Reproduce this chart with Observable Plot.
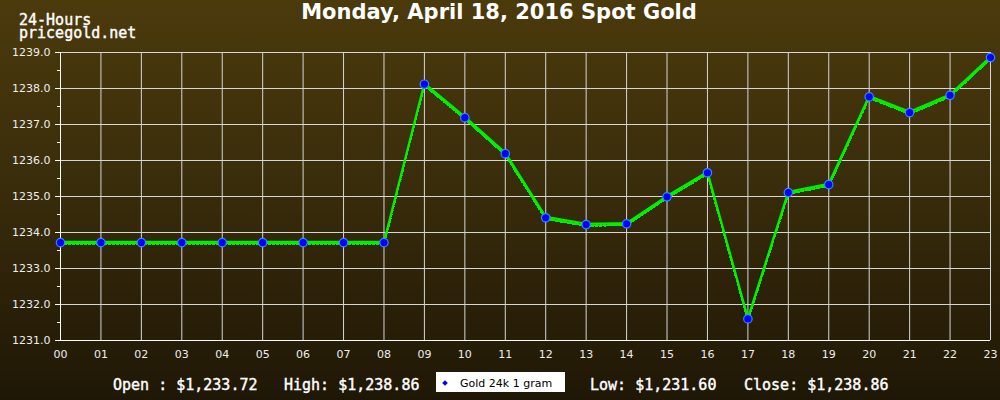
<!DOCTYPE html>
<html>
<head>
<meta charset="utf-8">
<script src="https://cdn.jsdelivr.net/npm/d3@7"></script>
<script src="https://cdn.jsdelivr.net/npm/@observablehq/plot@0.6"></script>
<style>
  html, body { margin: 0; padding: 0; background: #1f1705; }
  #wrap { position: relative; width: 1000px; height: 400px; overflow: hidden;
    background: linear-gradient(to bottom, #4b3a0c 0%, #3a2d0b 45%, #1f1706 100%); }
  .abs { position: absolute; white-space: pre; color: #ffffff; }
  .mono { font-family: "DejaVu Sans Mono", monospace; font-size: 15px; font-weight: normal; line-height: 13px; -webkit-text-stroke: 0.4px #ffffff; }
  #title { left: 0; width: 998px; text-align: center; top: 2px; font-family: "DejaVu Sans", sans-serif; font-weight: bold; font-size: 21px; line-height: 1; }
  #legend { position: absolute; left: 436px; top: 372px; width: 129px; height: 20px; background: #ffffff; }
  #legend .mk { position: absolute; left: 7px; top: 9px; width: 4px; height: 4px; background: #0000ff; transform: rotate(45deg); }
  #legend .tx { position: absolute; left: 24px; top: 6px; font-family: "DejaVu Sans", sans-serif; font-size: 11px; line-height: 1; color: #000; white-space: pre; }
  svg { position: absolute; left: 0; top: 0; }
</style>
</head>
<body>
<div id="wrap"></div>
<script>
// ---- data ----
const hours = [0,1,2,3,4,5,6,7,8,9,10,11,12,13,14,15,16,17,18,19,20,21,22,23];
const prices = [1233.72,1233.72,1233.72,1233.72,1233.72,1233.72,1233.72,1233.72,1233.72,
  1238.12,1237.19,1236.19,1234.41,1234.22,1234.24,1234.99,1235.66,1231.60,1235.11,1235.33,
  1237.77,1237.33,1237.81,1238.86];
const yTicks = [1231,1232,1233,1234,1235,1236,1237,1238,1239];
const yMinorTicks = [1231.5,1232.5,1233.5,1234.5,1235.5,1236.5,1237.5,1238.5];
const titleText = "Monday, April 18, 2016 Spot Gold";
const cornerLines = ["24-Hours", "pricegold.net"];
const seriesName = "Gold 24k 1 gram";
const stats = [
  {label: "Open : ", value: 1233.72},
  {label: "High: ", value: 1238.86},
  {label: "Low: ", value: 1231.60},
  {label: "Close: ", value: 1238.86}
];

const data = hours.map((h, i) => ({hour: h, price: prices[i]}));
const fmtMoney = d3.format("$,.2f");

const plot = Plot.plot({
  width: 1000,
  height: 400,
  marginLeft: 60,
  marginRight: 10,
  marginTop: 52,
  marginBottom: 60,
  style: {background: "transparent", fontFamily: "DejaVu Sans, sans-serif", fontSize: "11px", color: "#ededed", overflow: "visible"},
  x: {domain: [0, 23], axis: null},
  y: {domain: [1231, 1239], axis: null},
  marks: [
    Plot.gridX(hours, {stroke: "#d6d6d6", strokeOpacity: 1, strokeWidth: 1}),
    Plot.gridY(yTicks, {stroke: "#d6d6d6", strokeOpacity: 1, strokeWidth: 1}),
    Plot.axisY(yTicks, {anchor: "left", tickSize: 5, tickPadding: 5, tickFormat: d => d.toFixed(1), stroke: "#ffffff", fill: "#ededed", label: null}),
    Plot.axisY(yMinorTicks, {anchor: "left", tickSize: 3, tickFormat: () => "", stroke: "#ffffff", label: null}),
    Plot.axisX(hours, {anchor: "bottom", tickSize: 0, tickPadding: 10, tickFormat: d3.format("02d"), fill: "#ededed", label: null}),
    Plot.ruleX([0], {stroke: "#ffffff", strokeWidth: 1}),
    Plot.ruleY([1231], {stroke: "#ffffff", strokeWidth: 1}),
    Plot.line(data, {x: "hour", y: "price", stroke: "#00f000", strokeWidth: 2.2, dy: -0.8}),
    Plot.line(data, {x: "hour", y: "price", stroke: "#00f000", strokeWidth: 2.2, dy: 1.2, strokeDasharray: "2,2", shapeRendering: "crispEdges"}),
    Plot.dot(data, {x: "hour", y: "price", r: 4.2, fill: "#0000ff", stroke: "#2f8cff", strokeWidth: 1.2})
  ]
});

const wrap = document.getElementById("wrap");
wrap.appendChild(plot);

function addText(text, cls, left, top, id) {
  const d = document.createElement("div");
  d.className = "abs " + cls;
  if (id) d.id = id;
  d.textContent = text;
  if (left != null) d.style.left = left + "px";
  if (top != null) d.style.top = top + "px";
  wrap.appendChild(d);
  return d;
}
addText(titleText, "", null, null, "title");
addText(cornerLines.join("\n"), "mono", 19, 14);

const statLeft = [113, 284, 590, 744];
stats.forEach((s, i) => addText(s.label + fmtMoney(s.value), "mono", statLeft[i], 379));

const lg = document.createElement("div");
lg.id = "legend";
lg.innerHTML = '<div class="mk"></div><div class="tx"></div>';
lg.querySelector(".tx").textContent = seriesName;
wrap.appendChild(lg);
</script>
</body>
</html>
